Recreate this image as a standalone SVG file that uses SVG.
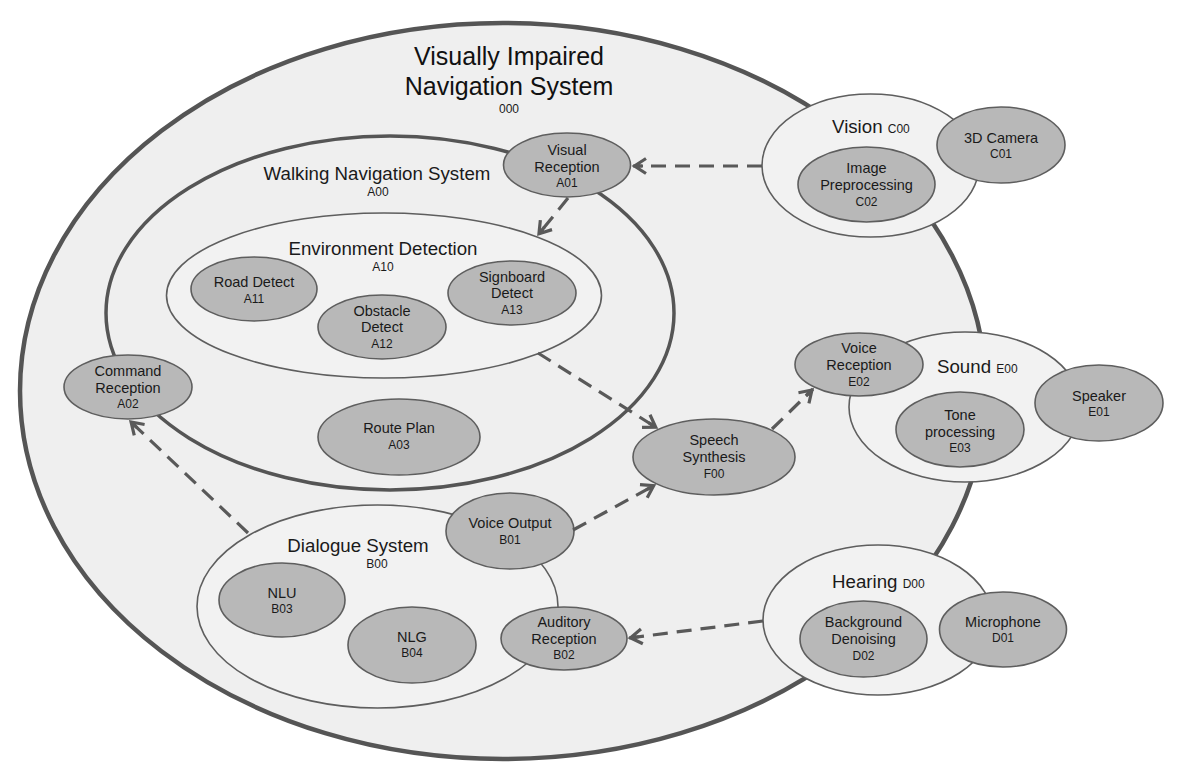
<svg xmlns="http://www.w3.org/2000/svg" width="1181" height="779" viewBox="0 0 1181 779">
<style>
text{font-family:"Liberation Sans",Arial,sans-serif;fill:#1a1a1a;text-anchor:middle}
.t{font-size:14.5px}
.i{font-size:12px}
.ct{font-size:18.7px}
.big{font-size:25px;fill:#111}
.node{fill:#b8b8b8;stroke:#5e5e5e;stroke-width:1.6}
.cont{fill:#f2f2f2;stroke:#5e5e5e;stroke-width:1.6}
.conn{fill:none;stroke:#595959;stroke-width:3.2;stroke-dasharray:15 9}
</style>
<defs>
<marker id="arr" viewBox="-16 -10 18 20" refX="0" refY="0" markerWidth="18" markerHeight="20" orient="auto" markerUnits="userSpaceOnUse">
<path d="M-13,-7.5 L-1.5,0 L-13,7.5 M-1.5,0 L-10,0" fill="none" stroke="#595959" stroke-width="3.2"/>
</marker>
</defs>
<rect width="1181" height="779" fill="#ffffff"/>

<g id="sys000">
<ellipse cx="503" cy="391" rx="483" ry="368" fill="#efefef" stroke="#555" stroke-width="4.5"/>
<text class="big" x="509" y="65">Visually Impaired</text>
<text class="big" x="509" y="95">Navigation System</text>
<text class="i" x="509" y="113">000</text>
</g>

<g id="A00">
<ellipse cx="390" cy="313" rx="284" ry="177" fill="#efefef" stroke="#555" stroke-width="3.5"/>
<text class="ct" x="377" y="180">Walking Navigation System</text>
<text class="i" x="378" y="196">A00</text>
</g>

<g id="A10">
<ellipse class="cont" cx="384" cy="295.5" rx="217.5" ry="82.5"/>
<text class="ct" x="383" y="255">Environment Detection</text>
<text class="i" x="383" y="271">A10</text>
</g>

<g id="B00">
<ellipse class="cont" cx="377.5" cy="606.5" rx="180.5" ry="101.5"/>
<text class="ct" x="358" y="552">Dialogue System</text>
<text class="i" x="377" y="568">B00</text>
</g>

<g id="C00">
<ellipse class="cont" cx="870.5" cy="165.5" rx="108.5" ry="71.5"/>
<text class="ct" x="832" y="133" style="text-anchor:start">Vision <tspan class="i">C00</tspan></text>
</g>

<g id="E00">
<ellipse class="cont" cx="965" cy="407" rx="116" ry="75"/>
<text class="ct" x="937" y="373" style="text-anchor:start">Sound <tspan class="i">E00</tspan></text>
</g>

<g id="D00">
<ellipse class="cont" cx="878" cy="620" rx="115" ry="75"/>
<text class="ct" x="832" y="588" style="text-anchor:start">Hearing <tspan class="i">D00</tspan></text>
</g>

<g id="A01">
<ellipse class="node" cx="567" cy="165" rx="63.5" ry="32"/>
<text class="t" x="567" y="155">Visual</text>
<text class="t" x="567" y="172">Reception</text>
<text class="i" x="567" y="187">A01</text>
</g>

<g id="A11">
<ellipse class="node" cx="254" cy="289" rx="63" ry="32"/>
<text class="t" x="254" y="287">Road Detect</text>
<text class="i" x="254" y="303">A11</text>
</g>

<g id="A12">
<ellipse class="node" cx="382" cy="327" rx="64" ry="32"/>
<text class="t" x="382" y="316">Obstacle</text>
<text class="t" x="382" y="332">Detect</text>
<text class="i" x="382" y="348">A12</text>
</g>

<g id="A13">
<ellipse class="node" cx="512" cy="293" rx="64" ry="32"/>
<text class="t" x="512" y="282">Signboard</text>
<text class="t" x="512" y="298">Detect</text>
<text class="i" x="512" y="314">A13</text>
</g>

<g id="A02">
<ellipse class="node" cx="128" cy="387" rx="64" ry="32"/>
<text class="t" x="128" y="376">Command</text>
<text class="t" x="128" y="393">Reception</text>
<text class="i" x="128" y="408">A02</text>
</g>

<g id="A03">
<ellipse class="node" cx="399" cy="437" rx="81" ry="38"/>
<text class="t" x="399" y="433">Route Plan</text>
<text class="i" x="399" y="449">A03</text>
</g>

<g id="B01">
<ellipse class="node" cx="510" cy="531" rx="64" ry="38"/>
<text class="t" x="510" y="528">Voice Output</text>
<text class="i" x="510" y="544">B01</text>
</g>

<g id="B02">
<ellipse class="node" cx="564" cy="638.5" rx="63" ry="31.5"/>
<text class="t" x="564" y="627">Auditory</text>
<text class="t" x="564" y="644">Reception</text>
<text class="i" x="564" y="659">B02</text>
</g>

<g id="B03">
<ellipse class="node" cx="282" cy="600" rx="63" ry="37"/>
<text class="t" x="282" y="598">NLU</text>
<text class="i" x="282" y="613">B03</text>
</g>

<g id="B04">
<ellipse class="node" cx="412" cy="645" rx="64" ry="38"/>
<text class="t" x="412" y="642">NLG</text>
<text class="i" x="412" y="657">B04</text>
</g>

<g id="F00">
<ellipse class="node" cx="714" cy="457" rx="81" ry="38"/>
<text class="t" x="714" y="445">Speech</text>
<text class="t" x="714" y="462">Synthesis</text>
<text class="i" x="714" y="478">F00</text>
</g>

<g id="C01">
<ellipse class="node" cx="1001" cy="145" rx="64" ry="38"/>
<text class="t" x="1001" y="143">3D Camera</text>
<text class="i" x="1001" y="158">C01</text>
</g>

<g id="C02">
<ellipse class="node" cx="866.5" cy="184.5" rx="68.5" ry="37.5"/>
<text class="t" x="866.5" y="173">Image</text>
<text class="t" x="866.5" y="190">Preprocessing</text>
<text class="i" x="866.5" y="206">C02</text>
</g>

<g id="D01">
<ellipse class="node" cx="1003" cy="629.5" rx="63.5" ry="37.5"/>
<text class="t" x="1003" y="627">Microphone</text>
<text class="i" x="1003" y="642">D01</text>
</g>

<g id="D02">
<ellipse class="node" cx="863.5" cy="639" rx="63.5" ry="38"/>
<text class="t" x="863.5" y="627">Background</text>
<text class="t" x="863.5" y="644">Denoising</text>
<text class="i" x="863.5" y="660">D02</text>
</g>

<g id="E01">
<ellipse class="node" cx="1099" cy="403" rx="64" ry="38"/>
<text class="t" x="1099" y="401">Speaker</text>
<text class="i" x="1099" y="416">E01</text>
</g>

<g id="E02">
<ellipse class="node" cx="859" cy="364.5" rx="64" ry="31.5"/>
<text class="t" x="859" y="353">Voice</text>
<text class="t" x="859" y="370">Reception</text>
<text class="i" x="859" y="386">E02</text>
</g>

<g id="E03">
<ellipse class="node" cx="960" cy="429.5" rx="64" ry="37.5"/>
<text class="t" x="960" y="420">Tone</text>
<text class="t" x="960" y="437">processing</text>
<text class="i" x="960" y="452">E03</text>
</g>

<g id="connectors">
<path class="conn" d="M762,166 L633,166" marker-end="url(#arr)"/>
<path class="conn" d="M568,198 L538,235" marker-end="url(#arr)"/>
<path class="conn" d="M538,353 L657,428" marker-end="url(#arr)"/>
<path class="conn" d="M772,429 L813,389" marker-end="url(#arr)"/>
<path class="conn" d="M573,530 L655,485" marker-end="url(#arr)"/>
<path class="conn" d="M248,533 L130,421" marker-end="url(#arr)"/>
<path class="conn" d="M763,621 L629,638" marker-end="url(#arr)"/>
</g>
</svg>
